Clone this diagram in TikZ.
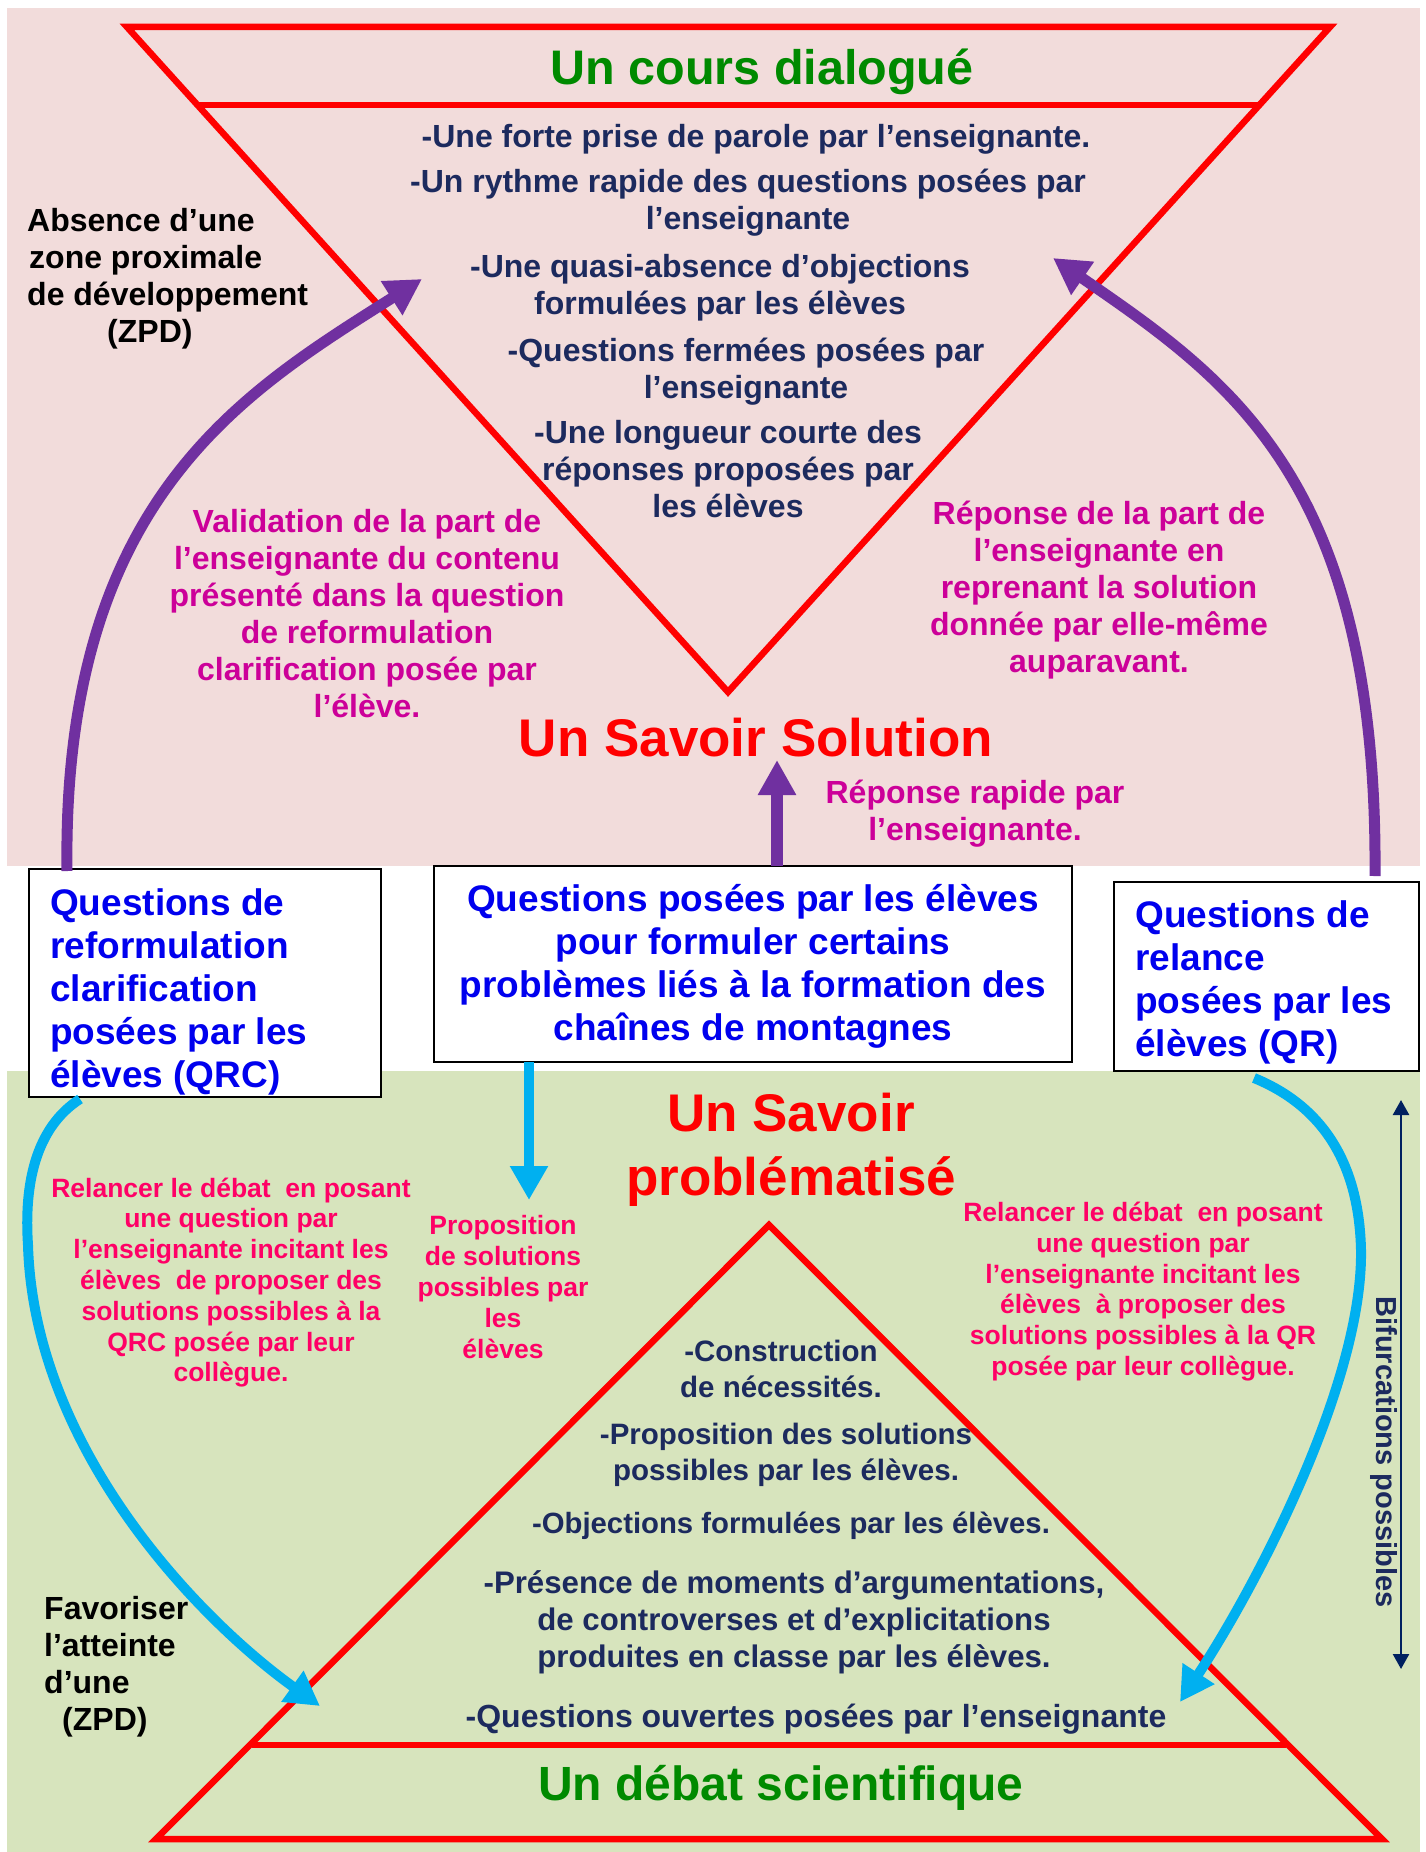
\documentclass[tikz,border=0pt]{standalone}
\usepackage{fontspec}
\setmainfont{Liberation Sans}
\usetikzlibrary{arrows.meta,calc}
\definecolor{bgpink}{HTML}{F2DCDB}
\definecolor{bggreen}{HTML}{D7E4BD}
\definecolor{navy}{HTML}{1C2A5E}
\definecolor{tgreen}{HTML}{008A00}
\definecolor{magen}{HTML}{CC0099}
\definecolor{rosered}{HTML}{FF0066}
\definecolor{qblue}{HTML}{0000EE}
\definecolor{purp}{HTML}{7030A0}
\definecolor{cyanb}{HTML}{00B0F0}
\definecolor{arrnavy}{HTML}{002060}
\newcommand{\myfs}[2]{\fontsize{#1}{#2}\selectfont}
\begin{document}
\begin{tikzpicture}[x=1pt,y=-1pt,
  body/.style={inner sep=0pt, align=center, text=navy, font=\bfseries\myfs{32}{37}},
  blk/.style={inner sep=0pt, align=left, text=black, font=\bfseries\myfs{32}{37}},
  mag/.style={inner sep=0pt, align=center, text=magen, font=\bfseries\myfs{32}{37}},
  ros/.style={inner sep=0pt, align=center, text=rosered, font=\bfseries\myfs{26.5}{30.8}},
  ttl/.style={inner sep=0pt, align=center, text=tgreen, font=\bfseries\myfs{48.5}{54}},
  sav/.style={inner sep=0pt, align=center, text=red, font=\bfseries\myfs{53}{64}},
  qtxt/.style={inner sep=0pt, text=qblue, font=\bfseries\myfs{37}{43}},
  qbox/.style={draw=black, fill=white, line width=2pt, inner sep=0pt},
  redline/.style={draw=red, line width=6.5pt, line join=miter},
  parrow/.style={draw=purp, line width=11pt, -{Triangle[length=36pt,width=38pt]}},
  carrow/.style={draw=cyanb, line width=10pt, -{Triangle[length=34pt,width=36pt]}},
]
\useasboundingbox (0,0) rectangle (1426,1852);
\fill[white] (0,0) rectangle (1426,1852);
% backgrounds
\fill[bgpink] (7,8) rectangle (1420,866);
\fill[bggreen] (7,1071) rectangle (1420,1852);

% top inverted triangle
\coordinate (ta) at (127,27);
\coordinate (tb) at (1330,27);
\coordinate (tc) at (728,692);
\draw[redline] (ta) -- (tb) -- (tc) -- cycle;
\coordinate (tl) at (197.5,105);
\coordinate (tr) at (1259.5,105);
\draw[redline] (tl) -- (tr);

% bottom triangle
\coordinate (ba) at (769,1225);
\coordinate (bb) at (1382,1839);
\coordinate (bc) at (156,1839);
\draw[redline] (ba) -- (bb) -- (bc) -- cycle;
\coordinate (bl) at (252,1745);
\coordinate (br) at (1286,1745);
\draw[redline] (bl) -- (br);

% titles
\node[ttl] (t1) at (762,72) {Un cours dialogué};
\node[ttl, font=\bfseries\myfs{48}{54}] (t2) at (781,1787.5) {Un débat scientifique};
\node[sav] (ss) at (756,738) {Un Savoir Solution};
\node[sav] (sp) at (791,1150) {Un Savoir\\problématisé};

% top triangle text
\node[body] (b1) at (756,139.5) {-Une forte prise de parole par l’enseignante.};
\node[body] (b2) at (748,202.5) {-Un rythme rapide des questions posées par\\l’enseignante};
\node[body] (b3) at (720,288) {-Une quasi-absence d’objections\\formulées par les élèves};
\node[body] (b4) at (746,372) {-Questions fermées posées par\\l’enseignante};
\node[body] (b5) at (728,469) {-Une longueur courte des\\réponses proposées par\\les élèves};

% bottom triangle text
\node[body, font=\bfseries\myfs{29.5}{35.5}] (c1) at (781,1369) {-Construction\\de nécessités.};
\node[body, font=\bfseries\myfs{29.5}{35.5}] (c2) at (786,1455) {-Proposition des solutions\\possibles par les élèves.};
\node[body, font=\bfseries\myfs{29.3}{35.5}] (c3) at (791,1525.5) {-Objections formulées par les élèves.};
\node[body, font=\bfseries\myfs{31.2}{37}] (c4) at (794,1622.5) {-Présence de moments d’argumentations,\\de controverses et d’explicitations\\produites en classe par les élèves.};
\node[body] (c5) at (816,1719.5) {-Questions ouvertes posées par l’enseignante};

% side black texts
\node[blk, anchor=west] (zpd1) at (27,278.5) {Absence d’une\\\hspace*{2pt}zone proximale\\de développement\\\hspace*{80pt}(ZPD)};
\node[blk, anchor=west] (zpd2) at (44,1666.5) {Favoriser\\l’atteinte\\d’une\\\hspace*{18pt}(ZPD)};

% magenta texts
\node[mag] (m1) at (367,614) {Validation de la part de\\l’enseignante du contenu\\présenté dans la question\\de reformulation\\clarification posée par\\l’élève.};
\node[mag] (m2) at (1099,590) {Réponse de la part de\\l’enseignante en\\reprenant la solution\\donnée par elle-même\\auparavant.};
\node[mag] (m3) at (975,813.5) {Réponse rapide par\\l’enseignante.};

% rose texts
\node[ros] (r1) at (231,1282.5) {Relancer le débat\ \ en posant\\une question par\\l’enseignante incitant les\\élèves\ \ de proposer des\\solutions possibles à la\\QRC posée par leur\\collègue.};
\node[ros] (r2) at (503,1287) {Proposition\\de solutions\\possibles par\\les\\élèves};
\node[ros] (r3) at (1143,1291.5) {Relancer le débat\ \ en posant\\une question par\\l’enseignante incitant les\\élèves\ \ à proposer des\\solutions possibles à la QR\\posée par leur collègue.};

% boxes
\node[qbox, minimum width=352pt, minimum height=228pt] (lbox) at (205,983) {};
\node[qbox, minimum width=638pt, minimum height=196pt] (cbox) at (753,964) {};
\node[qbox, minimum width=305pt, minimum height=189pt] (rbox) at (1266.5,976.5) {};
\node[qtxt, align=left, anchor=west] (ltxt) at (50,991.5) {Questions de\\reformulation\\clarification\\posées par les\\élèves (QRC)};
\node[qtxt, align=center] (ctxt) at (753,966.5) {Questions posées par les élèves\\pour formuler certains\\problèmes liés à la formation des\\chaînes de montagnes};
\node[qtxt, align=left, anchor=west] (rtxt) at (1135,982.5) {Questions de\\relance\\posées par les\\élèves (QR)};

% bifurcations
\node[inner sep=0pt, text=navy, font=\bfseries\myfs{29}{33}, rotate=-90] (bif) at (1384,1452) {Bifurcations possibles};
\coordinate (bt) at (1401,1100);
\coordinate (bd) at (1401,1669);
\draw[arrnavy, line width=2.5pt, {Triangle[length=15pt,width=16pt]}-{Triangle[length=15pt,width=16pt]}] (bt) -- (bd);

% purple arrows
\coordinate (ps1) at (67,871);
\coordinate (pe1) at (422,279);
\draw[parrow] (ps1) .. controls (62,500) and (242,393) .. (pe1);
\coordinate (ps2) at (1375,876);
\coordinate (pe2) at (1053,258);
\draw[parrow] (ps2) .. controls (1378,480) and (1230,380) .. (pe2);
\coordinate (ps3) at (777,866);
\coordinate (pe3) at (777,760);
\draw[draw=purp, line width=12pt, -{Triangle[length=35pt,width=36pt]}] (ps3) -- (pe3);

% cyan arrows
\coordinate (cs1) at (80,1099);
\coordinate (cm1) at (28,1245);
\coordinate (ce1) at (320,1706);
\draw[carrow] (cs1) .. controls (35,1128) and (24,1185) .. (cm1) .. controls (34,1450) and (200,1620) .. (ce1);
\coordinate (cs2) at (1254,1078);
\coordinate (cm2) at (1361,1250);
\coordinate (ce2) at (1180,1702);
\draw[carrow] (cs2) .. controls (1320,1105) and (1359,1160) .. (cm2) .. controls (1363,1380) and (1260,1580) .. (ce2);
\coordinate (cs3) at (529,1062);
\coordinate (ce3) at (529,1200);
\draw[carrow] (cs3) -- (ce3);
\end{tikzpicture}
\end{document}
